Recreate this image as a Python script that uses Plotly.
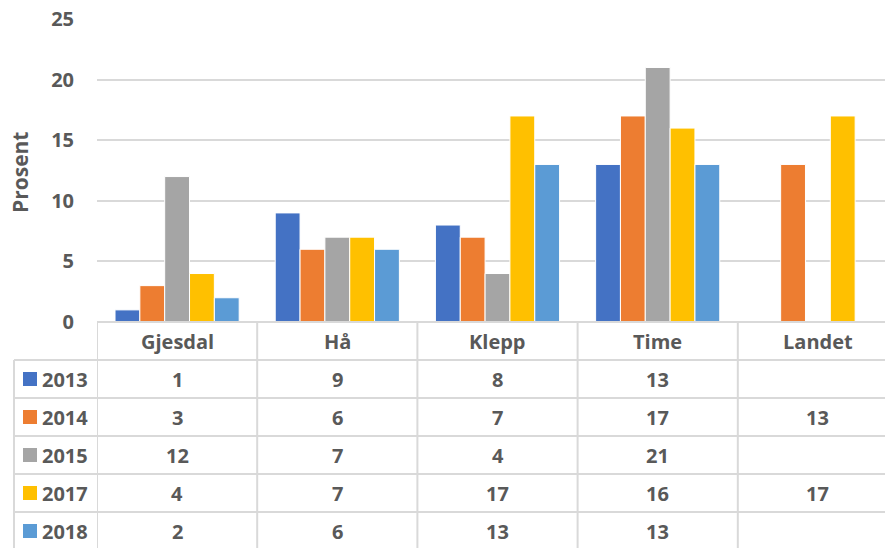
import plotly.graph_objects as go

# Data
categories = ["Gjesdal", "Hå", "Klepp", "Time", "Landet"]
series_names = ["2013", "2014", "2015", "2017", "2018"]
values_2013 = [1, 9, 8, 13, None]
values_2014 = [3, 6, 7, 17, 13]
values_2015 = [12, 7, 4, 21, None]
values_2017 = [4, 7, 17, 16, 17]
values_2018 = [2, 6, 13, 13, None]
series_values = [values_2013, values_2014, values_2015, values_2017, values_2018]
colors = ["#4472C4", "#ED7D31", "#A5A5A5", "#FFC000", "#5B9BD5"]
y_ticks = [0, 5, 10, 15, 20, 25]

# Layout geometry (pixels)
W, H = 885, 548
plot_left, plot_top, plot_bottom = 97, 19, 322
plot_h = plot_bottom - plot_top
plot_w = W - plot_left
col_w = 160.2
row_h = 38
table_left = 14

text_color = "#595959"
line_color = "#D9D9D9"
font_family = "'Open Sans', Lato, sans-serif"
fsize = 20


def py(px):
    """Pixel y -> paper y."""
    return (plot_bottom - px) / plot_h


def pxx(px):
    """Pixel x -> paper x."""
    return (px - plot_left) / plot_w


def bold(size=fsize):
    return dict(family=font_family, size=size, color=text_color, weight="bold")


fig = go.Figure()
for name, vals, col in zip(series_names, series_values, colors):
    fig.add_trace(go.Bar(
        x=categories, y=vals, name=name,
        marker=dict(color=col, line=dict(color="white", width=1)),
    ))

# visible categories span; the last column runs past the right edge
x_max = -0.5 + plot_w / col_w

shapes = []
annotations = []
n_rows = len(series_names)

# horizontal table lines
shapes.append(dict(type="line", xref="paper", yref="paper",
                   x0=0, x1=1, y0=py(plot_bottom), y1=py(plot_bottom),
                   line=dict(color=line_color, width=2)))
for r in range(1, n_rows + 1):
    y = plot_bottom + r * row_h
    shapes.append(dict(type="line", xref="paper", yref="paper",
                       x0=pxx(table_left), x1=1, y0=py(y), y1=py(y),
                       line=dict(color=line_color, width=2)))

# vertical table lines
shapes.append(dict(type="line", xref="paper", yref="paper",
                   x0=pxx(table_left), x1=pxx(table_left),
                   y0=py(plot_bottom + row_h), y1=py(H + 5),
                   line=dict(color=line_color, width=2)))
for i in range(len(categories) + 1):
    xb = -0.5 + i
    if xb > x_max:
        break
    shapes.append(dict(type="line", xref="x", yref="paper",
                       x0=xb, x1=xb, y0=py(plot_bottom), y1=py(H + 5),
                       line=dict(color=line_color, width=2)))

# header row: category names
for c in categories:
    annotations.append(dict(x=c, y=py(plot_bottom + row_h / 2), xref="x", yref="paper",
                            text=c, showarrow=False, xanchor="center", yanchor="middle",
                            font=bold()))

# body rows: legend keys, series names and values
for r, (name, vals, col) in enumerate(zip(series_names, series_values, colors)):
    yc = plot_bottom + row_h * (r + 1) + row_h / 2
    shapes.append(dict(type="rect", xref="paper", yref="paper",
                       x0=pxx(23), x1=pxx(37), y0=py(yc - 7), y1=py(yc + 7),
                       fillcolor=col, line=dict(width=0)))
    annotations.append(dict(x=pxx(40), y=py(yc), xref="paper", yref="paper",
                            text=name, showarrow=False, xanchor="left", yanchor="middle",
                            font=bold()))
    for c, v in zip(categories, vals):
        if v is None:
            continue
        annotations.append(dict(x=c, y=py(yc), xref="x", yref="paper",
                                text=str(v), showarrow=False, xanchor="center", yanchor="middle",
                                font=bold()))

# axis title
annotations.append(dict(x=pxx(20), y=py(172), xref="paper", yref="paper", text="Prosent",
                        textangle=-90, showarrow=False, xanchor="center", yanchor="middle",
                        font=bold(21)))

fig.update_layout(
    width=W, height=H,
    margin=dict(l=plot_left, r=0, t=plot_top, b=H - plot_bottom, pad=0),
    paper_bgcolor="white", plot_bgcolor="white",
    barmode="group", bargap=0.225, bargroupgap=0,
    showlegend=False,
    shapes=shapes, annotations=annotations,
    xaxis=dict(range=[-0.5, x_max], showticklabels=False, showgrid=False,
               zeroline=False, showline=False, fixedrange=True),
    yaxis=dict(range=[0, 25], tickvals=y_ticks, showgrid=True, gridcolor=line_color,
               gridwidth=2, zeroline=False, showline=False, ticklabelstandoff=22,
               tickfont=bold()),
    font=dict(family=font_family),
)

fig.write_html("out.html")
